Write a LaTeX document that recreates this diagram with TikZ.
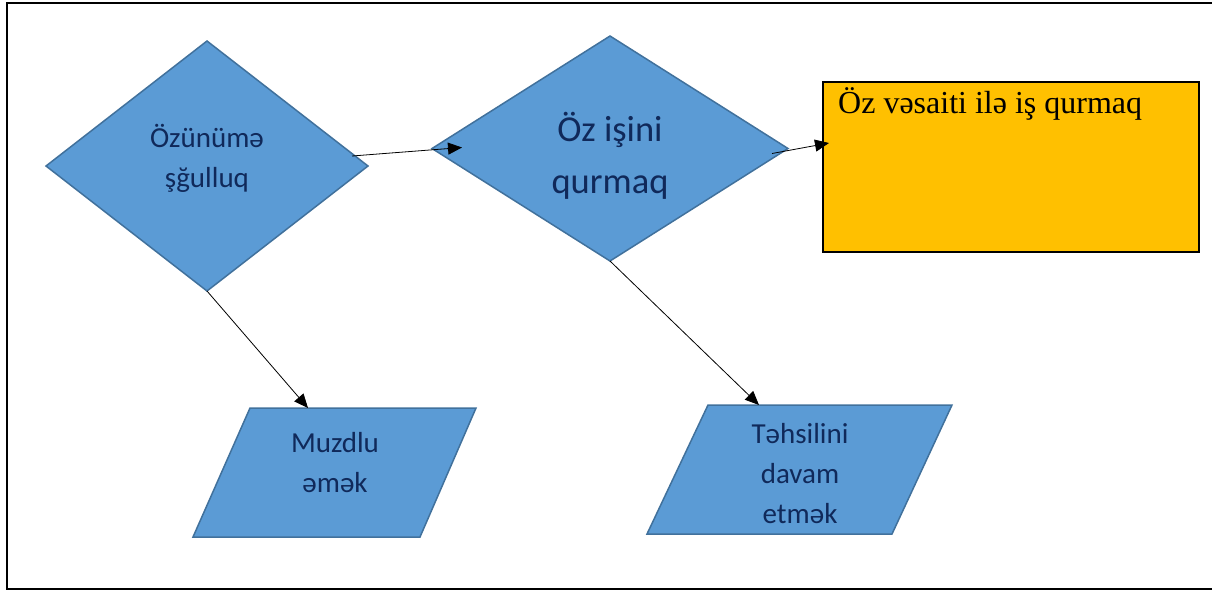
\documentclass[tikz,border=0pt]{standalone}
\usepackage{fontspec}
\newfontfamily\calib{Carlito}
\newfontfamily\timesf{Liberation Serif}
\usetikzlibrary{positioning, shapes.geometric, arrows.meta}

\definecolor{boxblue}{HTML}{5B9BD5}
\definecolor{boxedge}{HTML}{41719C}
\definecolor{navy}{HTML}{10295A}
\definecolor{gold}{HTML}{FFC000}

\begin{document}
\begin{tikzpicture}[x=1pt, y=-1pt,
    decision/.style={diamond, draw=boxedge, fill=boxblue, line width=1.5pt, inner sep=0pt, outer sep=0pt},
    para/.style={draw=boxedge, fill=boxblue, line width=1.5pt, line join=miter},
    blue text/.style={align=center, text=navy, inner sep=0pt},
    small/.style={blue text, font=\calib\fontsize{29}{40}\selectfont},
    arr/.style={-{Triangle[length=14pt, width=12pt]}, line width=0.8pt}]
    \useasboundingbox (0,0) rectangle (1212,590);
    % frame, open at the right
    \draw[line width=2pt] (1212,3) -- (7,3) -- (7,589) -- (1212,589);

    % the two decisions
    \node[decision, minimum width=322pt, minimum height=250pt] (own) at (207,166) {};
    \node[decision, minimum width=356pt, minimum height=225pt] (idea) at (610,148.5) {};
    \node[small] (owntxt) at (207,158) {Özünümə\\şğulluq};
    \node[blue text, font=\calib\fontsize{36.5}{52}\selectfont] (ideatxt) at (610,156) {Öz işini\\qurmaq};

    % yellow box
    \node[draw, line width=2pt, fill=gold, minimum width=376pt, minimum height=170pt, outer sep=0pt] (self) at (1011,167) {};
    \node[anchor=base west, inner sep=0pt, font=\timesf\fontsize{32}{38}\selectfont] (selftxt) at (838,113) {Öz vəsaiti ilə iş qurmaq};

    % parallelograms
    \draw[para] (250,408) -- (476,408) -- (420,537) -- (193,537) -- cycle;
    \draw[para] (708,405) -- (952,405) -- (892,534) -- (647,534) -- cycle;
    \coordinate (wagetop) at (308,408);
    \coordinate (studytop) at (759,405);
    \node[small] (wage) at (335,463) {Muzdlu\\əmək};
    \node[small] (study) at (800,474) {Təhsilini\\davam\\etmək};

    % connectors
    \draw[arr] ([xshift=-16pt, yshift=10pt]own.east) -- ([xshift=30pt, yshift=1pt]idea.west);
    \draw[arr] ([xshift=-16pt, yshift=-5pt]idea.east) -- ([xshift=6pt, yshift=24pt]self.west);
    \draw[arr] (own.south) -- (wagetop);
    \draw[arr] (idea.south) -- (studytop);
\end{tikzpicture}
\end{document}
